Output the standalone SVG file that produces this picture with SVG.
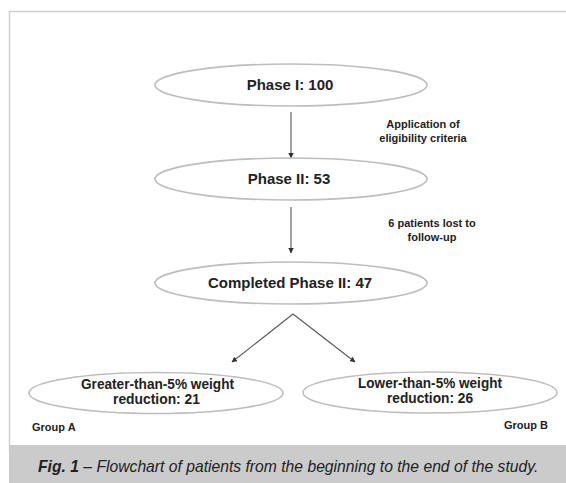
<svg xmlns="http://www.w3.org/2000/svg" width="566" height="483" viewBox="0 0 566 483">
<style>
.node{fill:#fff;stroke:#bdbdbd;stroke-width:1.6}
.t{font-family:"Liberation Sans",Arial,sans-serif;font-weight:bold;fill:#222;text-anchor:middle}
.big{font-size:15px}
.mid{font-size:14.5px}
.small{font-size:11px}
.edge{stroke:#555;stroke-width:1.1;fill:none}
.cap{font-family:"Liberation Sans",Arial,sans-serif;font-style:italic;font-size:15.7px;fill:#222}
</style>
<defs>
<marker id="ah" viewBox="0 0 10 10" refX="9" refY="5" markerWidth="5" markerHeight="5" orient="auto">
<path d="M0,0 L10,5 L0,10 z" fill="#333"/>
</marker>
</defs>
<rect x="0" y="0" width="566" height="483" fill="#fff"/>
<rect x="9.5" y="11.5" width="570" height="440" fill="#fff" stroke="#cfcfcf" stroke-width="1.5"/>
<rect x="9" y="445" width="557" height="38" fill="#cbcbcb"/>
<text class="cap" x="38" y="472"><tspan font-weight="bold">Fig. 1</tspan> – Flowchart of patients from the beginning to the end of the study.</text>

<g id="connectors">
<line class="edge" x1="291" y1="112" x2="291" y2="158" marker-end="url(#ah)"/>
<line class="edge" x1="291" y1="207" x2="291" y2="253" marker-end="url(#ah)"/>
<line class="edge" x1="293" y1="314" x2="232" y2="362" marker-end="url(#ah)"/>
<line class="edge" x1="293" y1="314" x2="355" y2="362" marker-end="url(#ah)"/>
<text class="t small" x="423" y="128">Application of</text>
<text class="t small" x="423" y="142">eligibility criteria</text>
<text class="t small" x="432" y="227">6 patients lost to</text>
<text class="t small" x="432" y="241">follow-up</text>
</g>

<g id="phase1">
<ellipse class="node" cx="291" cy="85" rx="136" ry="21"/>
<text class="t big" x="290" y="90">Phase I: 100</text>
</g>
<g id="phase2">
<ellipse class="node" cx="291" cy="179" rx="136" ry="21"/>
<text class="t big" x="289" y="184">Phase II: 53</text>
</g>
<g id="completed">
<ellipse class="node" cx="291" cy="283" rx="136" ry="21"/>
<text class="t big" x="290" y="288">Completed Phase II: 47</text>
</g>
<g id="groupA">
<ellipse class="node" cx="156" cy="393" rx="127" ry="20.5"/>
<text class="t mid" x="157.5" y="389" textLength="153" lengthAdjust="spacingAndGlyphs">Greater-than-5% weight</text>
<text class="t mid" x="156.5" y="404" textLength="87" lengthAdjust="spacingAndGlyphs">reduction: 21</text>
<text class="t small" x="32" y="431" style="text-anchor:start">Group A</text>
</g>
<g id="groupB">
<ellipse class="node" cx="430" cy="392.5" rx="127" ry="20.5"/>
<text class="t mid" x="430" y="388" textLength="144" lengthAdjust="spacingAndGlyphs">Lower-than-5% weight</text>
<text class="t mid" x="430" y="403" textLength="86" lengthAdjust="spacingAndGlyphs">reduction: 26</text>
<text class="t small" x="548" y="429" style="text-anchor:end">Group B</text>
</g>
</svg>
